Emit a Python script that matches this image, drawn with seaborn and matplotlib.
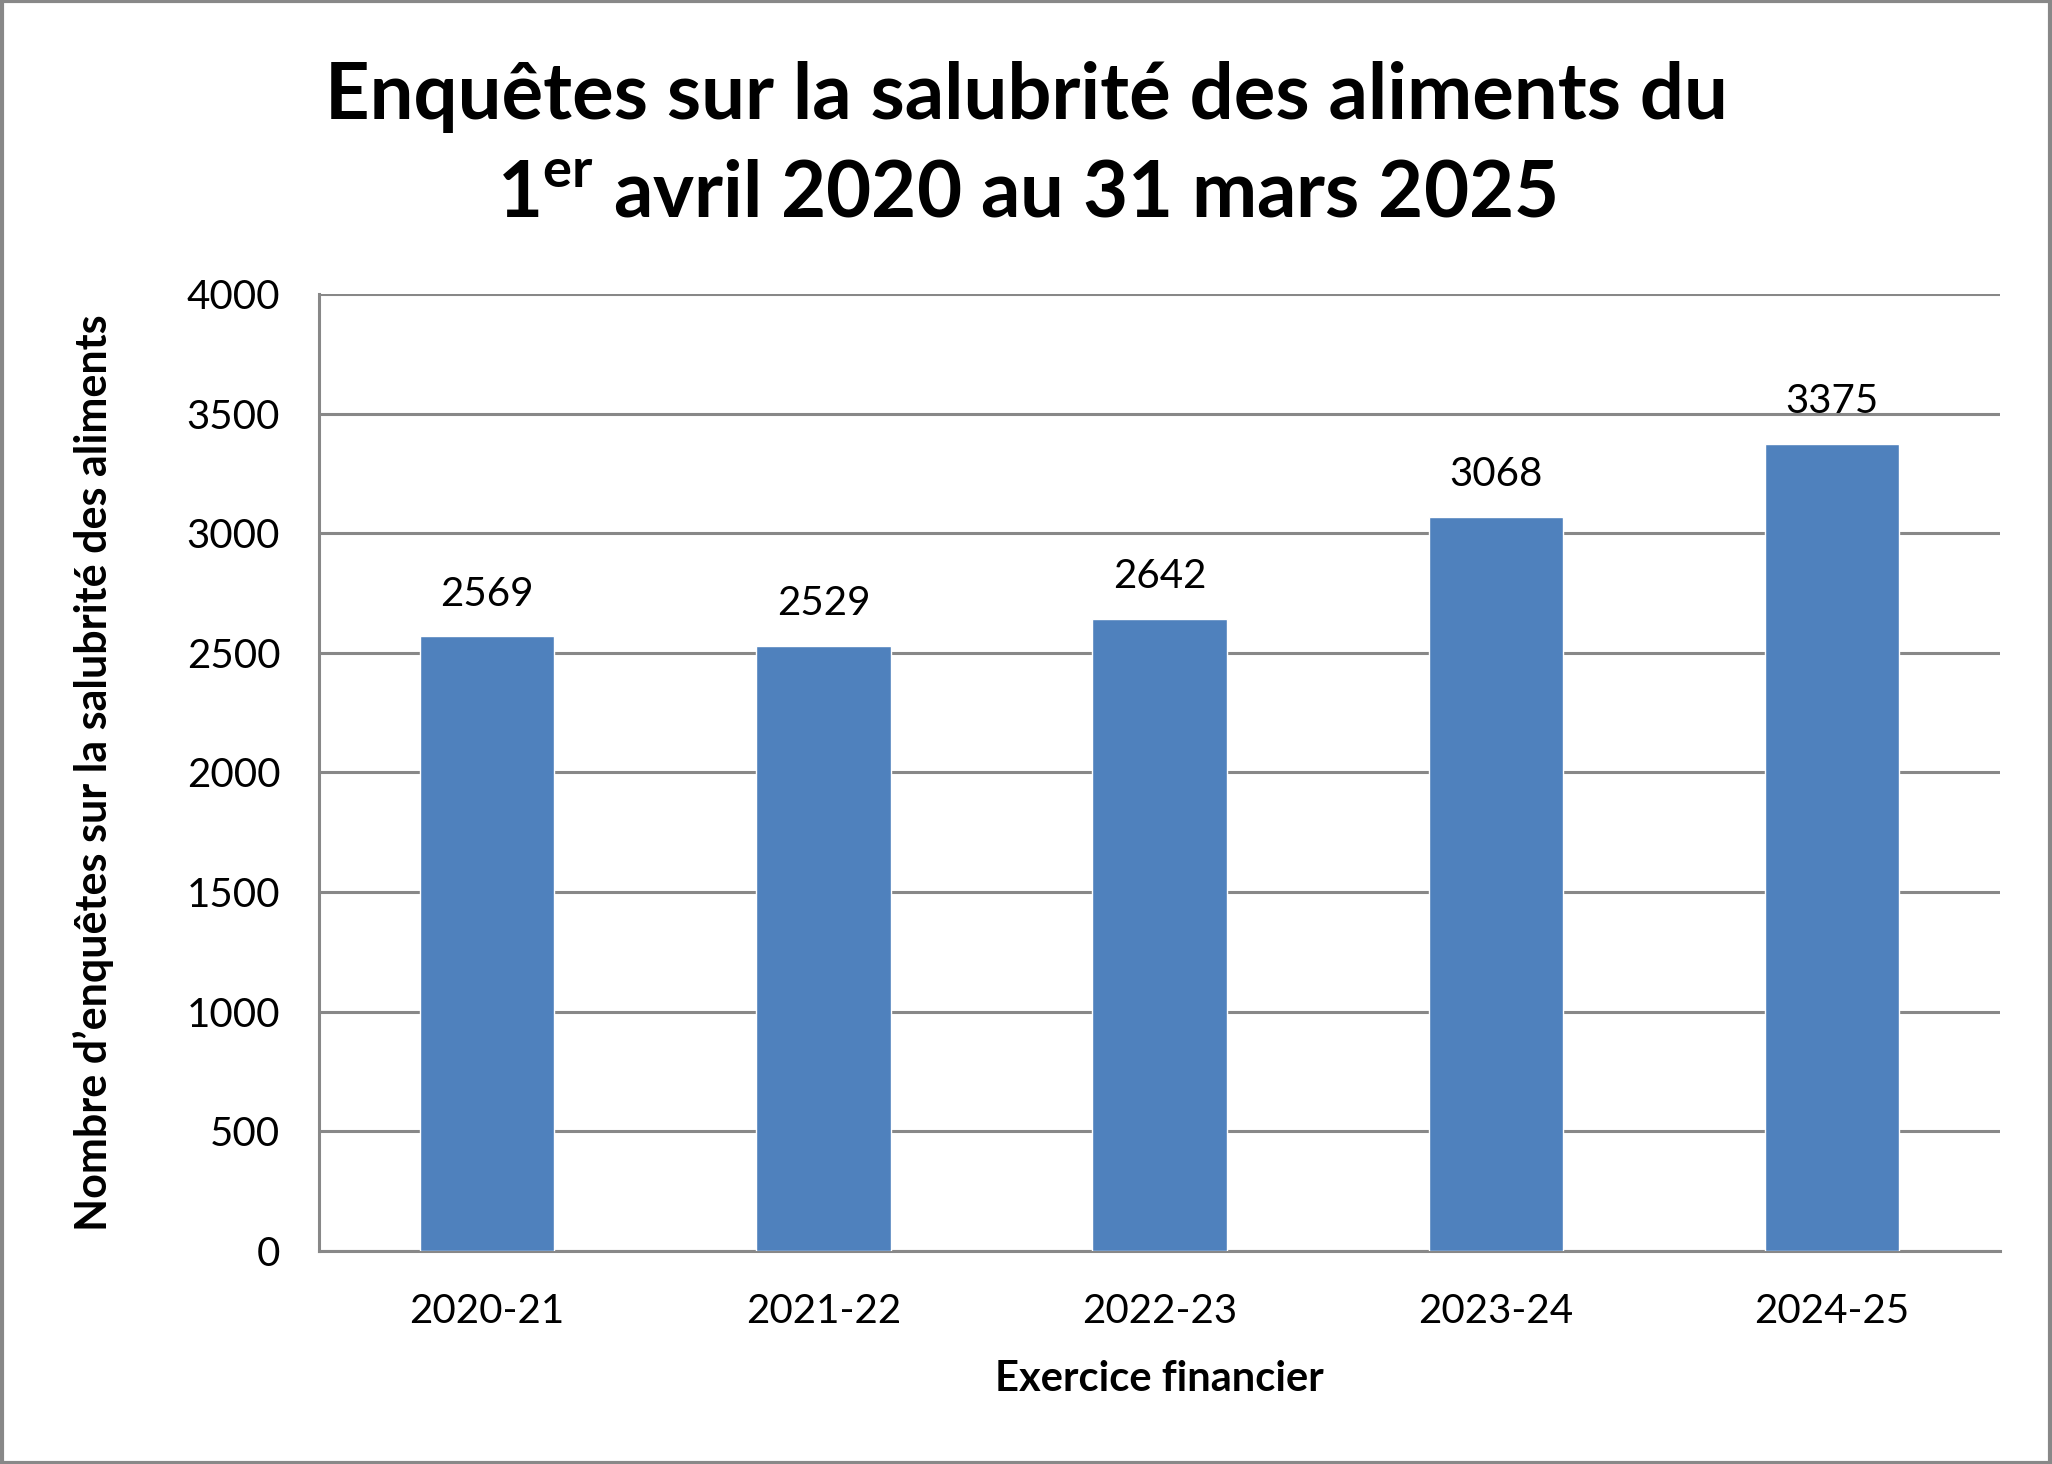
import matplotlib
matplotlib.use("Agg")
import matplotlib.pyplot as plt
import seaborn as sns
from matplotlib.patches import Rectangle

# Data
years = ["2020-21", "2021-22", "2022-23", "2023-24", "2024-25"]
counts = [2569, 2529, 2642, 3068, 3375]
y_ticks = [0, 500, 1000, 1500, 2000, 2500, 3000, 3500, 4000]

sns.set_style("white")
plt.rcParams['font.family'] = ['Lato', 'DejaVu Sans']
plt.rcParams['mathtext.fontset'] = 'custom'
plt.rcParams['mathtext.rm'] = 'Lato'
plt.rcParams['mathtext.bf'] = 'Lato:bold'
plt.rcParams['text.color'] = 'black'
plt.rcParams['axes.labelcolor'] = 'black'

grey = '#888888'
fig = plt.figure(figsize=(20.52, 14.64), dpi=100)
ax = fig.add_axes([0.1555, 0.1455, 0.8192, 0.6537])

sns.barplot(x=years, y=counts, color='#4F81BD', width=0.4, saturation=1, ax=ax, zorder=3)

ax.set_ylim(0, 4000)
ax.set_xlim(-0.5, len(years) - 0.5)
ax.set_yticks(y_ticks)
ax.yaxis.grid(True, color=grey, linewidth=2.2, zorder=0)
ax.set_axisbelow(True)

# x ticks sit between categories
ax.set_xticks([i - 0.5 for i in range(len(years) + 1)], minor=True)
ax.tick_params(axis='x', which='major', length=0, pad=30, labelsize=29, labelcolor='black')
ax.tick_params(axis='x', which='minor', length=10, width=2.2, color=grey, direction='out')
ax.tick_params(axis='y', length=10, width=2.2, color=grey, direction='out', pad=18,
               labelsize=29, labelcolor='black')

for s in ['top', 'right']:
    ax.spines[s].set_visible(False)
for s in ['left', 'bottom']:
    ax.spines[s].set_color(grey)
    ax.spines[s].set_linewidth(2.2)

ax.bar_label(ax.containers[0], labels=[str(c) for c in counts], padding=17, fontsize=29, color='black')

ax.set_xlabel("Exercice financier", fontsize=30, fontweight='bold', labelpad=22)
ax.set_ylabel("Nombre d’enquêtes sur la salubrité des aliments", fontsize=31,
              fontweight='bold', labelpad=52)

fig.text(0.5, 0.9, "Enquêtes sur la salubrité des aliments du\n1$^{\\mathbf{er}}$ avril 2020 au 31 mars 2025",
         ha='center', va='center', fontsize=56, fontweight='bold', linespacing=1.45, color='black')

fig.patches.append(Rectangle((0.001, 0.001), 0.998, 0.998, transform=fig.transFigure,
                             fill=False, edgecolor=grey, linewidth=3))

fig.savefig("out.png", dpi=100, facecolor='white')
